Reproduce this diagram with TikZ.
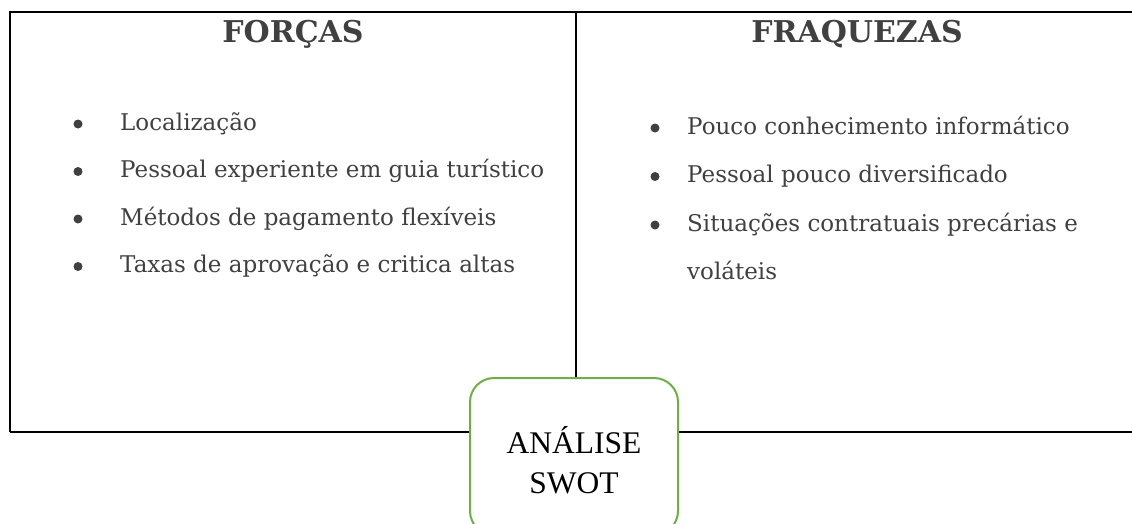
\documentclass[tikz,border=0pt]{standalone}
\usepackage{fontspec}
\setmainfont{DejaVu Serif}
\newfontfamily\swotfont{Liberation Serif}
\definecolor{textgray}{HTML}{404040}
\definecolor{swotgreen}{HTML}{70AD47}

\begin{document}
\begin{tikzpicture}[x = 1pt, y = -1pt,
                        rule/.style = {line width = 1.8pt, black},
                        heading/.style = {anchor = base, inner sep = 0pt, text = textgray,
                                          font = \fontsize{30}{36}\selectfont\bfseries},
                        item/.style = {anchor = base west, inner sep = 0pt, text = textgray, align = left,
                                       font = \fontsize{23}{48}\selectfont},
                        dot/.style = {circle, fill = textgray, inner sep = 0pt, minimum size = 9pt},
                        swotbox/.style = {draw = swotgreen, line width = 2pt, fill = white,
                                          rounded corners = 24pt, minimum width = 208pt, minimum height = 157pt}]
    \useasboundingbox (0,0) rectangle (1132,523);
    \coordinate (tl) at (10,12);
    \coordinate (tr) at (1132,12);
    \coordinate (tm) at (576,12);
    \coordinate (bl) at (10,432);
    \coordinate (br) at (1132,432);
    \draw [rule] (bl)--(tl)--(tr);
    \draw [rule] (bl)--(br);
    \node [swotbox] (box) at (574,456.5) {};
    \draw [rule] (tm)--(box.north -| tm);
    \node [font = \swotfont\fontsize{31.5}{40}\selectfont, align = center] (swot) at (574,460) {ANÁLISE\\SWOT};
    % forcas
    \node [heading] (forcas) at (293,42) {FORÇAS};
    \node [dot] (f1) at (78,124) {};
    \node [item] (loc) at (120,130) {Localização};
    \node [dot] (f2) at (78,171.5) {};
    \node [item] (pess) at (120,177.5) {Pessoal experiente em guia turístico};
    \node [dot] (f3) at (78,219) {};
    \node [item] (metodos) at (120,225) {Métodos de pagamento flexíveis};
    \node [dot] (f4) at (78,266.5) {};
    \node [item] (taxas) at (120,272.5) {Taxas de aprovação e critica altas};
    % fraquezas (a wrapped item is anchored on its last line)
    \node [heading] (fraquezas) at (857,42) {FRAQUEZAS};
    \node [dot] (w1) at (655,128) {};
    \node [item] (pouco) at (687,134) {Pouco conhecimento informático};
    \node [dot] (w2) at (655,176.5) {};
    \node [item] (divers) at (687,182.5) {Pessoal pouco diversificado};
    \node [dot] (w3) at (655,225) {};
    \node [item] (situ) at (687,279) {Situações contratuais precárias e\\voláteis};
\end{tikzpicture}
\end{document}
